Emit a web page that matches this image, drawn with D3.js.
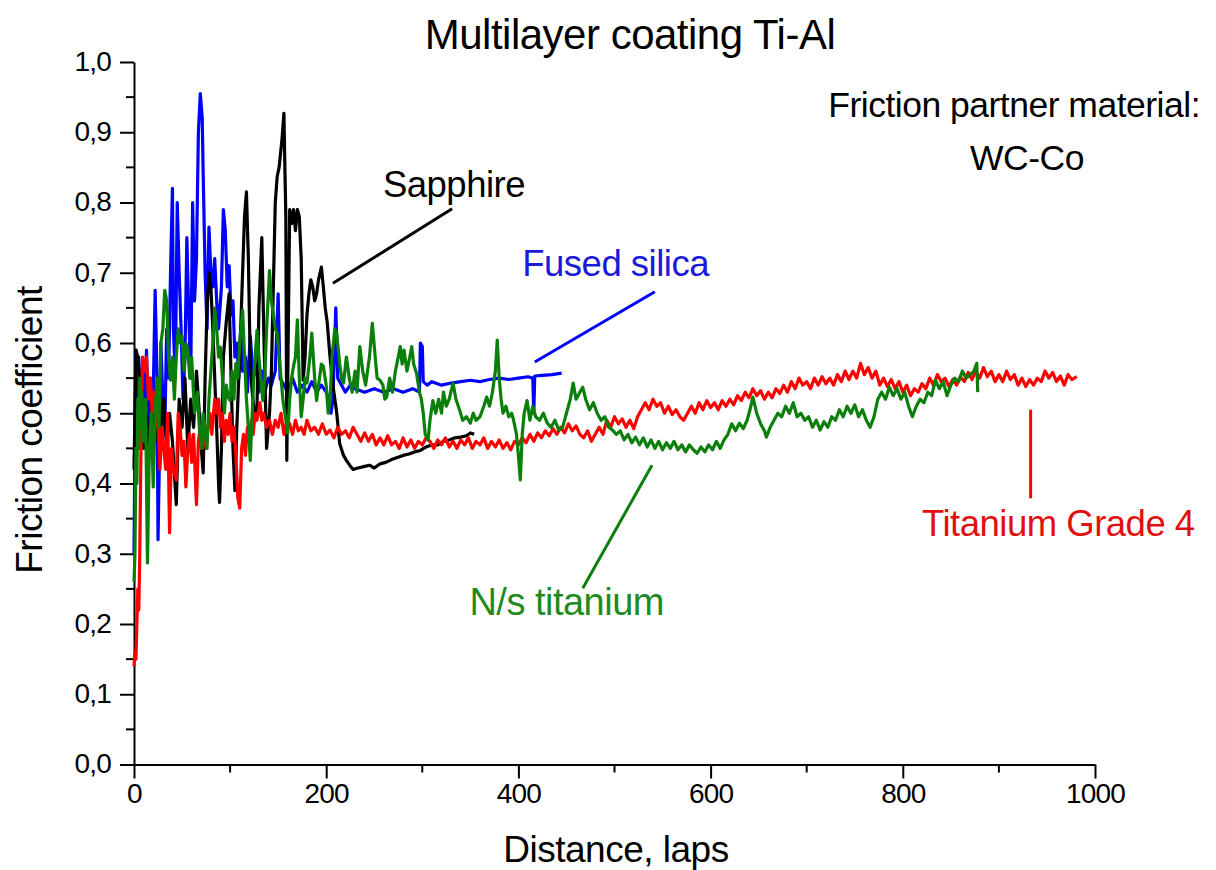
<!DOCTYPE html>
<html>
<head>
<meta charset="utf-8">
<script src="https://cdn.jsdelivr.net/npm/d3@7"></script>
<style>
  html, body { margin: 0; padding: 0; background: #fff; }
  svg { display: block; font-family: "Liberation Sans", Arial, sans-serif; }
</style>
</head>
<body>
<svg id="chart" width="1216" height="870"></svg>
<script>
// ---- Data (distance in laps, friction coefficient) ----
const titleText = "Multilayer coating Ti-Al";
const xLabel = "Distance, laps";
const yLabel = "Friction coefficient";
const xTicks = [0, 200, 400, 600, 800, 1000];
const yTicks = [0, 0.1, 0.2, 0.3, 0.4, 0.5, 0.6, 0.7, 0.8, 0.9, 1.0];
const yTickLabels = ["0,0","0,1","0,2","0,3","0,4","0,5","0,6","0,7","0,8","0,9","1,0"];

const fusedSilica = [[0,0.30],[1,0.46],[2,0.59],[4,0.52],[5,0.58],[7,0.46],[9,0.57],[11,0.50],[13,0.59],[15,0.48],[17,0.55],[19,0.45],[21,0.60],[22,0.675],[24,0.55],[25,0.32],[27,0.48],[28,0.60],[30,0.52],[32,0.47],[34,0.62],[36,0.55],[38,0.70],[40,0.82],[41,0.62],[43,0.55],[45,0.80],[47,0.70],[49,0.62],[51,0.52],[53,0.58],[55,0.75],[57,0.64],[59,0.55],[61,0.80],[63,0.66],[65,0.72],[67,0.90],[69,0.955],[71,0.92],[72,0.84],[74,0.70],[76,0.62],[78,0.765],[80,0.70],[82,0.68],[84,0.72],[86,0.66],[88,0.62],[91,0.68],[93,0.79],[95,0.76],[97,0.68],[99,0.71],[101,0.64],[103,0.66],[105,0.58],[107,0.60],[109,0.55],[111,0.62],[113,0.56],[116,0.58],[118,0.53],[121,0.61],[124,0.55],[127,0.57],[130,0.53],[133,0.56],[136,0.53],[140,0.55],[143,0.54],[147,0.56],[150,0.67],[152,0.55],[156,0.54],[160,0.53],[165,0.55],[170,0.53],[175,0.54],[180,0.53],[185,0.545],[190,0.53],[195,0.54],[200,0.53],[203,0.52],[205,0.50],[207,0.52],[210,0.65],[212,0.55],[216,0.54],[220,0.53],[225,0.54],[230,0.535],[240,0.53],[250,0.535],[260,0.53],[270,0.535],[280,0.53],[290,0.535],[297,0.53],[298,0.60],[300,0.595],[301,0.545],[305,0.54],[310,0.545],[320,0.54],[330,0.543],[340,0.545],[350,0.547],[360,0.545],[370,0.548],[380,0.55],[390,0.548],[400,0.55],[410,0.552],[415,0.55],[416,0.50],[417,0.553],[425,0.554],[435,0.555],[445,0.557]];

const sapphire = [[0,0.42],[2,0.59],[4,0.58],[6,0.55],[8,0.48],[10,0.45],[13,0.50],[16,0.44],[19,0.52],[22,0.46],[25,0.55],[28,0.48],[31,0.52],[34,0.45],[37,0.50],[40,0.46],[44,0.37],[47,0.52],[50,0.48],[53,0.55],[56,0.45],[59,0.52],[62,0.48],[65,0.56],[68,0.50],[70,0.45],[72,0.415],[74,0.55],[76,0.65],[78,0.70],[80,0.68],[82,0.62],[84,0.55],[86,0.48],[88,0.40],[89,0.373],[91,0.45],[93,0.58],[96,0.63],[99,0.67],[101,0.55],[103,0.45],[105,0.39],[107,0.48],[109,0.55],[111,0.62],[113,0.70],[115,0.78],[117,0.815],[119,0.72],[121,0.57],[123,0.53],[126,0.49],[128,0.51],[130,0.65],[133,0.75],[135,0.62],[138,0.45],[141,0.50],[143,0.56],[145,0.68],[147,0.80],[149,0.837],[151,0.85],[154,0.89],[156,0.927],[157,0.85],[158,0.78],[159,0.433],[160,0.55],[162,0.79],[164,0.77],[166,0.79],[168,0.76],[170,0.79],[172,0.78],[174,0.72],[176,0.547],[178,0.58],[180,0.64],[182,0.67],[184,0.69],[186,0.68],[188,0.66],[190,0.67],[192,0.69],[195,0.708],[197,0.68],[199,0.65],[201,0.63],[204,0.58],[207,0.54],[211,0.50],[214,0.457],[218,0.44],[221,0.433],[225,0.425],[228,0.42],[233,0.422],[239,0.424],[245,0.426],[250,0.422],[256,0.428],[262,0.43],[268,0.434],[274,0.437],[280,0.44],[286,0.442],[292,0.445],[298,0.447],[304,0.452],[310,0.455],[316,0.455],[322,0.46],[328,0.462],[334,0.465],[340,0.466],[346,0.468],[350,0.472],[354,0.47]];

const titaniumGrade4 = [[0,0.14],[1,0.16],[2,0.15],[3,0.20],[4,0.25],[5,0.22],[6,0.30],[7,0.42],[8,0.52],[9,0.58],[11,0.56],[13,0.58],[15,0.52],[17,0.55],[19,0.50],[21,0.53],[23,0.48],[25,0.50],[27,0.42],[29,0.48],[31,0.45],[33,0.42],[35,0.50],[37,0.33],[39,0.45],[41,0.42],[44,0.405],[46,0.50],[48,0.48],[50,0.44],[52,0.46],[54,0.395],[56,0.45],[58,0.47],[60,0.43],[62,0.47],[65,0.37],[67,0.46],[69,0.48],[71,0.45],[73,0.49],[75,0.45],[77,0.48],[79,0.50],[81,0.47],[84,0.52],[86,0.50],[88,0.52],[90,0.48],[92,0.50],[94,0.46],[96,0.49],[98,0.47],[100,0.50],[102,0.46],[104,0.48],[106,0.44],[108,0.38],[110,0.365],[112,0.45],[114,0.47],[116,0.44],[118,0.48],[120,0.46],[122,0.49],[124,0.47],[126,0.50],[128,0.49],[131,0.515],[133,0.49],[135,0.50],[138,0.48],[141,0.49],[144,0.47],[147,0.49],[150,0.48],[153,0.50],[156,0.47],[159,0.49],[162,0.485],[165,0.47],[168,0.49],[171,0.475],[174,0.48],[177,0.47],[180,0.49],[184,0.475],[188,0.48],[192,0.47],[196,0.485],[200,0.47],[204,0.476],[208,0.465],[212,0.48],[216,0.47],[220,0.475],[224,0.465],[228,0.48],[232,0.47],[236,0.46],[240,0.472],[244,0.46],[248,0.47],[252,0.455],[256,0.465],[260,0.455],[264,0.468],[268,0.455],[272,0.46],[276,0.45],[280,0.465],[284,0.452],[288,0.462],[292,0.45],[296,0.46],[300,0.455],[304,0.465],[308,0.46],[312,0.45],[316,0.462],[320,0.455],[324,0.465],[328,0.452],[332,0.46],[336,0.45],[340,0.462],[344,0.455],[348,0.465],[352,0.45],[356,0.46],[360,0.455],[364,0.465],[368,0.45],[372,0.46],[376,0.452],[380,0.462],[384,0.45],[388,0.458],[392,0.448],[396,0.46],[400,0.455],[404,0.465],[408,0.458],[412,0.47],[416,0.46],[420,0.472],[424,0.465],[428,0.475],[432,0.468],[436,0.478],[440,0.47],[444,0.48],[448,0.472],[452,0.485],[456,0.475],[460,0.482],[464,0.47],[468,0.465],[472,0.475],[476,0.46],[480,0.47],[484,0.48],[488,0.47],[492,0.49],[496,0.48],[500,0.495],[504,0.485],[508,0.492],[512,0.48],[516,0.49],[520,0.478],[524,0.495],[528,0.505],[532,0.515],[536,0.505],[540,0.52],[544,0.51],[548,0.515],[552,0.5],[556,0.51],[560,0.498],[564,0.505],[568,0.495],[572,0.49],[576,0.5],[580,0.51],[584,0.5],[588,0.515],[592,0.505],[596,0.518],[600,0.508],[604,0.515],[608,0.505],[612,0.518],[616,0.51],[620,0.52],[624,0.512],[628,0.525],[632,0.518],[636,0.53],[640,0.522],[644,0.535],[648,0.525],[652,0.532],[656,0.52],[660,0.53],[664,0.522],[668,0.535],[672,0.528],[676,0.54],[680,0.53],[684,0.545],[688,0.535],[692,0.55],[696,0.54],[700,0.545],[704,0.535],[708,0.55],[712,0.54],[716,0.552],[720,0.542],[724,0.55],[728,0.54],[732,0.555],[736,0.545],[740,0.56],[744,0.548],[748,0.56],[752,0.55],[756,0.571],[760,0.555],[764,0.565],[768,0.55],[772,0.56],[776,0.54],[780,0.55],[784,0.538],[788,0.548],[792,0.535],[796,0.545],[800,0.53],[804,0.54],[808,0.525],[812,0.535],[816,0.53],[820,0.542],[824,0.535],[828,0.55],[832,0.54],[836,0.555],[840,0.545],[844,0.55],[848,0.538],[852,0.548],[856,0.54],[860,0.552],[864,0.545],[868,0.558],[872,0.548],[876,0.56],[880,0.55],[884,0.565],[888,0.552],[892,0.56],[896,0.545],[900,0.555],[904,0.545],[908,0.56],[912,0.548],[916,0.555],[920,0.54],[924,0.55],[928,0.538],[932,0.548],[936,0.54],[940,0.55],[944,0.545],[948,0.56],[952,0.55],[956,0.558],[960,0.545],[964,0.553],[968,0.54],[972,0.555],[976,0.548],[981,0.552]];

const nsTitanium = [[0,0.26],[1,0.30],[2,0.45],[3,0.40],[4,0.52],[5,0.45],[6,0.55],[7,0.48],[8,0.53],[10,0.46],[12,0.52],[14,0.287],[16,0.45],[18,0.50],[20,0.395],[22,0.50],[24,0.55],[26,0.48],[28,0.60],[30,0.62],[32,0.675],[34,0.66],[36,0.58],[38,0.547],[40,0.58],[42,0.52],[44,0.58],[46,0.62],[48,0.60],[50,0.61],[52,0.56],[54,0.60],[56,0.59],[58,0.55],[60,0.58],[63,0.50],[66,0.53],[68,0.48],[70,0.45],[72,0.50],[74,0.47],[76,0.45],[78,0.52],[80,0.56],[82,0.60],[84,0.65],[86,0.62],[88,0.58],[90,0.594],[92,0.55],[94,0.50],[96,0.54],[98,0.523],[100,0.518],[102,0.56],[104,0.52],[106,0.571],[108,0.55],[110,0.60],[113,0.647],[115,0.58],[117,0.52],[119,0.48],[121,0.433],[123,0.50],[125,0.56],[128,0.618],[130,0.58],[132,0.55],[134,0.518],[136,0.55],[138,0.62],[141,0.703],[143,0.66],[145,0.64],[147,0.62],[149,0.614],[151,0.58],[153,0.55],[155,0.518],[157,0.50],[160,0.472],[162,0.52],[164,0.55],[166,0.567],[168,0.58],[170,0.633],[172,0.55],[174,0.495],[176,0.52],[178,0.55],[180,0.543],[183,0.58],[185,0.614],[188,0.55],[190,0.518],[193,0.55],[195,0.57],[197,0.567],[200,0.54],[202,0.50],[204,0.518],[206,0.58],[209,0.62],[211,0.614],[214,0.57],[216,0.55],[218,0.543],[221,0.58],[224,0.55],[227,0.53],[230,0.56],[232,0.53],[235,0.595],[238,0.56],[241,0.54],[245,0.58],[248,0.628],[251,0.58],[253,0.55],[256,0.547],[259,0.54],[261,0.52],[263,0.523],[266,0.55],[269,0.53],[272,0.56],[275,0.58],[277,0.595],[279,0.57],[281,0.59],[284,0.56],[287,0.58],[289,0.595],[291,0.57],[294,0.557],[297,0.53],[299,0.52],[301,0.50],[303,0.47],[306,0.462],[308,0.49],[311,0.518],[314,0.50],[317,0.52],[320,0.50],[322,0.53],[325,0.51],[328,0.52],[332,0.543],[335,0.52],[339,0.504],[342,0.49],[346,0.495],[350,0.486],[353,0.50],[356,0.49],[360,0.495],[364,0.51],[367,0.523],[370,0.51],[373,0.53],[376,0.56],[378,0.604],[380,0.55],[382,0.52],[384,0.50],[387,0.51],[390,0.495],[393,0.50],[395,0.49],[398,0.47],[400,0.44],[402,0.405],[404,0.47],[406,0.50],[409,0.518],[412,0.49],[415,0.51],[418,0.495],[422,0.49],[426,0.50],[430,0.486],[434,0.48],[438,0.49],[442,0.476],[446,0.48],[450,0.50],[454,0.52],[457,0.543],[460,0.52],[464,0.53],[467,0.537],[470,0.52],[474,0.505],[478,0.515],[482,0.50],[486,0.49],[490,0.495],[494,0.48],[498,0.476],[502,0.47],[506,0.475],[510,0.462],[514,0.47],[518,0.458],[522,0.466],[526,0.455],[530,0.465],[534,0.452],[538,0.462],[542,0.45],[546,0.46],[550,0.448],[554,0.458],[558,0.45],[562,0.46],[566,0.448],[570,0.455],[574,0.445],[578,0.455],[582,0.448],[586,0.443],[590,0.452],[594,0.445],[598,0.455],[602,0.448],[606,0.46],[610,0.45],[614,0.462],[618,0.47],[622,0.485],[626,0.475],[630,0.486],[634,0.478],[638,0.49],[641,0.505],[644,0.523],[648,0.5],[652,0.485],[656,0.475],[658,0.466],[662,0.48],[666,0.49],[670,0.5],[674,0.495],[678,0.51],[682,0.5],[686,0.515],[690,0.495],[694,0.5],[698,0.49],[702,0.495],[706,0.48],[710,0.49],[714,0.476],[718,0.488],[722,0.48],[726,0.495],[730,0.49],[734,0.505],[738,0.495],[742,0.51],[746,0.5],[750,0.512],[754,0.495],[758,0.505],[762,0.49],[766,0.48],[770,0.495],[774,0.52],[778,0.53],[782,0.52],[786,0.537],[790,0.525],[794,0.535],[798,0.52],[802,0.53],[806,0.51],[810,0.495],[814,0.51],[818,0.52],[822,0.515],[826,0.53],[830,0.525],[834,0.547],[838,0.535],[842,0.545],[846,0.525],[850,0.54],[854,0.55],[858,0.545],[862,0.56],[866,0.55],[870,0.555],[874,0.56],[877,0.571],[878,0.53]];

// series: name, data, colour ; annotation label positions / leader lines in data units
const seriesNames = ["Fused silica", "Sapphire", "Titanium Grade 4", "N/s titanium"];
const seriesData = [fusedSilica, sapphire, titaniumGrade4, nsTitanium];
const seriesColors = ["#0000ff", "#000000", "#ff0000", "#0a7f0a"];
const labelColors = ["#1a1ad8", "#000000", "#e01010", "#1f8a1f"];
const labelPos = [[404, 0.695], [259, 0.808], [820, 0.325], [349, 0.213]];
const leaderLines = [[[417, 0.573], [542, 0.673]], [[207, 0.685], [331, 0.791]], [[933, 0.505], [933, 0.379]], [[467, 0.251], [539, 0.426]]];

// ---- Drawing ----
const svg = d3.select("#chart");
const x = d3.scaleLinear().domain([0, 1000]).range([134, 1095]);
const y = d3.scaleLinear().domain([0, 1]).range([764.5, 62]);

// axes
const xAxis = d3.axisBottom(x).tickValues(xTicks).tickFormat(d3.format("d")).tickSize(14).tickSizeOuter(0).tickPadding(4);
const yAxis = d3.axisLeft(y).tickValues(yTicks).tickFormat((d, i) => yTickLabels[i]).tickSize(14).tickSizeOuter(0).tickPadding(9);

const gx = svg.append("g").attr("transform", `translate(0,${y(0)})`).call(xAxis);
const gy = svg.append("g").attr("transform", `translate(${x(0)},0)`).call(yAxis);

// minor ticks
gx.selectAll(".minor").data(d3.range(100, 1000, 200)).enter().append("line")
  .attr("x1", d => x(d)).attr("x2", d => x(d)).attr("y1", 0).attr("y2", 8)
  .attr("stroke", "#000").attr("stroke-width", 2);
gy.selectAll(".minor").data(d3.range(0.05, 1, 0.1)).enter().append("line")
  .attr("y1", d => y(d)).attr("y2", d => y(d)).attr("x1", 0).attr("x2", -8)
  .attr("stroke", "#000").attr("stroke-width", 2);

[gx, gy].forEach(g => {
  g.selectAll(".domain").attr("stroke", "#000").attr("stroke-width", 2);
  g.selectAll(".tick line").attr("stroke", "#000").attr("stroke-width", 2);
  g.selectAll(".tick text").attr("fill", "#000").attr("font-size", 28)
    .attr("letter-spacing", -0.8)
    .attr("font-family", "'Liberation Sans', Arial, sans-serif");
});
gx.selectAll(".tick text").attr("dy", "0.72em");
gy.selectAll(".tick text").attr("dy", "0.3em");

// lines
const line = d3.line().x(d => x(d[0])).y(d => y(d[1]));
svg.append("g").selectAll("path").data(seriesData).enter().append("path")
  .attr("d", line)
  .attr("fill", "none")
  .attr("stroke", (d, i) => seriesColors[i])
  .attr("stroke-width", 3.2)
  .attr("stroke-linejoin", "round");

// leader lines
svg.append("g").selectAll("line").data(leaderLines).enter().append("line")
  .attr("x1", d => x(d[0][0])).attr("y1", d => y(d[0][1]))
  .attr("x2", d => x(d[1][0])).attr("y2", d => y(d[1][1]))
  .attr("stroke", (d, i) => seriesColors[i]).attr("stroke-width", 3);

// series labels
svg.append("g").selectAll("text").data(seriesNames).enter().append("text")
  .attr("x", (d, i) => x(labelPos[i][0])).attr("y", (d, i) => y(labelPos[i][1]))
  .attr("fill", (d, i) => labelColors[i])
  .attr("font-size", (d, i) => i === 3 ? 38 : 36.5)
  .attr("letter-spacing", -0.5)
  .text(d => d);

// title & notes
svg.append("text").attr("x", 630).attr("y", 49).attr("text-anchor", "middle")
  .attr("font-size", 42).attr("letter-spacing", -0.5).text(titleText);
svg.append("text").attr("x", 1200).attr("y", 117).attr("text-anchor", "end")
  .attr("font-size", 35.5).attr("letter-spacing", -0.5).text("Friction partner material:");
svg.append("text").attr("x", 1027).attr("y", 170).attr("text-anchor", "middle")
  .attr("font-size", 35.5).attr("letter-spacing", -0.5).text("WC-Co");

// axis titles
svg.append("text").attr("x", 616).attr("y", 862).attr("text-anchor", "middle")
  .attr("font-size", 37).attr("letter-spacing", -0.5).text(xLabel);
svg.append("text").attr("transform", "translate(42,430) rotate(-90)").attr("text-anchor", "middle")
  .attr("font-size", 37).attr("letter-spacing", -0.5).text(yLabel);
</script>
</body>
</html>
